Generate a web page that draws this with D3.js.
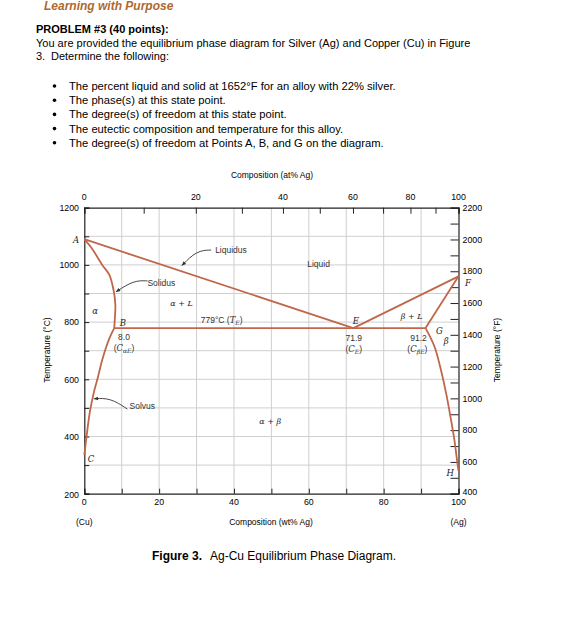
<!DOCTYPE html>
<html>
<head>
<meta charset="utf-8">
<script src="https://cdn.jsdelivr.net/npm/d3@7"></script>
<style>
  body { margin: 0; background: #fff; }
  svg text { font-family: "Liberation Sans", Arial, sans-serif; }
  .serif { font-family: "DejaVu Serif", "Liberation Serif", serif; font-style: italic; }
</style>
</head>
<body>
<svg id="chart" width="561" height="619"></svg>
<script>
// header text
const bullets = [
  "The percent liquid and solid at 1652\u00b0F for an alloy with 22% silver.",
  "The phase(s) at this state point.",
  "The degree(s) of freedom at this state point.",
  "The eutectic composition and temperature for this alloy.",
  "The degree(s) of freedom at Points A, B, and G on the diagram."
];

// axis ticks
const wtTicks = d3.range(0, 101, 10);        // bottom, wt% Ag
const wtLabels = [0, 20, 40, 60, 80, 100];
const atTicks = d3.range(0, 101, 10);        // top, at% Ag
const atLabels = [0, 20, 40, 60, 80, 100];
const cTicks = d3.range(200, 1201, 100);     // left, deg C
const cLabels = [200, 400, 600, 800, 1000, 1200];
const fTicks = d3.range(400, 2201, 100);     // right, deg F
const fLabels = [400, 600, 800, 1000, 1200, 1400, 1600, 1800, 2000, 2200];

// phase boundaries [wt% Ag, deg C]
const liquidusLeft = [[0, 1090], [71.9, 779]];
const liquidusRight = [[71.9, 779], [100, 960]];
const eutectic = [[8.0, 779], [91.2, 779]];
const solidusLeft = [[0, 1090], [2.0, 1058], [4.8, 1000], [6.7, 965], [7.9, 906], [8.3, 860], [8.2, 820], [8.0, 779]];
const solvusLeft = [[8.0, 779], [6.7, 743], [4.9, 673], [3.5, 600], [2.6, 557], [1.5, 487], [0.6, 400], [0, 335]];
const solidusRight = [[91.2, 779], [100, 960]];
const solvusRight = [[91.2, 779], [93.6, 714], [95.1, 644], [96.7, 551], [98.0, 458], [98.9, 388], [99.6, 318], [100, 280]];

const svg = d3.select("#chart");

// ---- header
svg.append("text").attr("x", 44).attr("y", 10)
  .attr("fill", "#b0692e").style("font-size", "12px")
  .style("font-weight", "bold").style("font-style", "italic")
  .text("Learning with Purpose");

svg.append("text").attr("x", 36).attr("y", 33)
  .style("font-size", "11px").style("font-weight", "bold")
  .text("PROBLEM #3 (40 points):");
svg.append("text").attr("x", 36).attr("y", 46.5)
  .style("font-size", "11px")
  .text("You are provided the equilibrium phase diagram for Silver (Ag) and Copper (Cu) in Figure");
const l3 = svg.append("text").attr("y", 60).style("font-size", "11px");
l3.append("tspan").attr("x", 36).text("3.");
l3.append("tspan").attr("x", 51).text("Determine the following:");

const bl = svg.append("g").selectAll("g").data(bullets).join("g")
  .attr("transform", (d, i) => `translate(0,${90 + i * 14.2})`);
bl.append("circle").attr("cx", 54.5).attr("cy", -4).attr("r", 1.8).attr("fill", "#000");
bl.append("text").attr("x", 69).style("font-size", "11.2px").text(d => d);

// ---- chart
const x = d3.scaleLinear().domain([0, 100]).range([84.3, 458.5]);
const y = d3.scaleLinear().domain([200, 1200]).range([493.7, 207.7]);
const yF = d3.scaleLinear().domain([400, 2200]).range([493.7, 207.7]);

// at% -> wt% Ag
const atToWt = a => 100 * a * 107.87 / (a * 107.87 + (100 - a) * 63.55);

const grid = svg.append("g").attr("stroke", "#cfcfcf").attr("stroke-width", 1);
grid.selectAll(".gv").data(wtTicks.slice(1, -1)).join("line")
  .attr("x1", d => x(d)).attr("x2", d => x(d))
  .attr("y1", y(1200)).attr("y2", y(200));
grid.selectAll(".gh").data(cTicks.slice(1, -1)).join("line")
  .attr("x1", x(0)).attr("x2", x(100))
  .attr("y1", d => y(d)).attr("y2", d => y(d));

// axes
const fs = "8.8px";
const axB = svg.append("g").attr("transform", `translate(0,${y(200)})`)
  .call(d3.axisBottom(x).tickValues(wtTicks).tickSize(-5).tickFormat(""));
svg.append("g").selectAll("text").data(wtLabels).join("text")
  .attr("x", d => x(d)).attr("y", 505).attr("text-anchor", "middle")
  .style("font-size", fs).text(d => d);

const axT = svg.append("g").attr("transform", `translate(0,${y(1200)})`)
  .call(d3.axisTop(x).tickValues(atTicks.map(atToWt)).tickSize(-6).tickFormat(""));
svg.append("g").selectAll("text").data(atLabels).join("text")
  .attr("x", d => x(atToWt(d))).attr("y", 200).attr("text-anchor", "middle")
  .style("font-size", fs).text(d => d);

const axL = svg.append("g").attr("transform", `translate(${x(0)},0)`)
  .call(d3.axisLeft(y).tickValues(cTicks).tickSize(-5).tickFormat(""));
svg.append("g").selectAll("text").data(cLabels).join("text")
  .attr("x", 79).attr("y", d => y(d) + (d === 200 ? 4.5 : 3.2)).attr("text-anchor", "end")
  .style("font-size", fs).text(d => d);

const axR = svg.append("g").attr("transform", `translate(${x(100)},0)`)
  .call(d3.axisRight(yF).tickValues(fTicks).tickSize(-8).tickFormat(""));
svg.append("g").selectAll("text").data(fLabels).join("text")
  .attr("x", 462.5).attr("y", d => yF(d) + (d === 400 ? 1.5 : 3.2))
  .style("font-size", fs).text(d => d);

[axB, axT, axL, axR].forEach(g => {
  g.select(".domain").attr("stroke", "#222").attr("stroke-width", 1.2);
  g.selectAll(".tick line").attr("stroke", "#222").attr("stroke-width", 1);
});

// axis titles
svg.append("text").attr("x", 272).attr("y", 178).attr("text-anchor", "middle")
  .style("font-size", "8.5px").text("Composition (at% Ag)");
svg.append("text").attr("x", 271).attr("y", 525).attr("text-anchor", "middle")
  .style("font-size", "8.5px").text("Composition (wt% Ag)");
svg.append("text").attr("x", x(0)).attr("y", 525).attr("text-anchor", "middle")
  .style("font-size", "8.5px").text("(Cu)");
svg.append("text").attr("x", x(100)).attr("y", 525).attr("text-anchor", "middle")
  .style("font-size", "8.5px").text("(Ag)");
svg.append("text").attr("transform", "translate(50,350) rotate(-90)").attr("text-anchor", "middle")
  .style("font-size", "8.5px").text("Temperature (\u00b0C)");
svg.append("text").attr("transform", "translate(500,350) rotate(-90)").attr("text-anchor", "middle")
  .style("font-size", "8.5px").text("Temperature (\u00b0F)");

// phase boundaries
const straight = d3.line().x(d => x(d[0])).y(d => y(d[1]));
const smooth = d3.line().x(d => x(d[0])).y(d => y(d[1])).curve(d3.curveCatmullRom.alpha(0.5));
const lines = svg.append("g").attr("fill", "none").attr("stroke", "#c0674b").attr("stroke-width", 1.8);
[liquidusLeft, liquidusRight, eutectic, solidusRight].forEach(d => lines.append("path").attr("d", straight(d)));
[solidusLeft, solvusLeft, solvusRight].forEach(d => lines.append("path").attr("d", smooth(d)));

// leader arrows: [start, control, end] in data units
const leaders = [
  { label: "Solidus", pos: [20.6, 938], path: [[16.9, 944], [13.2, 946], [8.5, 906]] },
  { label: "Liquidus", pos: [39.2, 1053], path: [[33.9, 1052], [30.0, 1050], [26.1, 998]] },
  { label: "Solvus", pos: [15.5, 506], path: [[11.5, 496], [7.0, 535], [2.6, 532]] }
];
svg.append("defs").append("marker").attr("id", "arr")
  .attr("viewBox", "0 0 10 10").attr("refX", 9).attr("refY", 5)
  .attr("markerWidth", 6).attr("markerHeight", 5).attr("orient", "auto")
  .append("path").attr("d", "M0,1 L10,5 L0,9 Z").attr("fill", "#333");
const curveLine = d3.line().x(d => x(d[0])).y(d => y(d[1])).curve(d3.curveBundle.beta(1));
const ann = svg.append("g");
ann.selectAll("path").data(leaders).join("path")
  .attr("d", d => curveLine(d.path)).attr("fill", "none")
  .attr("stroke", "#333").attr("stroke-width", 0.9).attr("marker-end", "url(#arr)");
ann.selectAll("text").data(leaders).join("text")
  .attr("x", d => x(d.pos[0])).attr("y", d => y(d.pos[1]) + 3)
  .attr("text-anchor", "middle").style("font-size", "8.5px").attr("fill", "#333")
  .text(d => d.label);

// region and point labels [wt%, degC]
const serifLabels = [
  { t: "A", p: [-2.2, 1087] }, { t: "B", p: [10.3, 797] }, { t: "C", p: [1.8, 323] },
  { t: "E", p: [72.6, 804] }, { t: "F", p: [102.5, 938] }, { t: "G", p: [94.9, 770] },
  { t: "H", p: [97.8, 271] }, { t: "\u03b1", p: [2.9, 838] }, { t: "\u03b2", p: [96.7, 733] }
];
ann.append("g").selectAll("text").data(serifLabels).join("text")
  .attr("class", "serif").attr("x", d => x(d.p[0])).attr("y", d => y(d.p[1]) + 3)
  .attr("text-anchor", "middle").style("font-size", "8.5px").attr("fill", "#222")
  .text(d => d.t);

const phaseLabels = [
  { t: "\u03b1 + L", p: [26.0, 866] }, { t: "\u03b1 + \u03b2", p: [49.7, 455] },
  { t: "\u03b2 + L", p: [87.5, 821] }
];
ann.append("g").selectAll("text").data(phaseLabels).join("text")
  .attr("class", "serif").attr("x", d => x(d.p[0])).attr("y", d => y(d.p[1]) + 3)
  .attr("text-anchor", "middle").style("font-size", "8px").attr("fill", "#222")
  .text(d => d.t);

const plainLabels = [
  { t: "Liquid", p: [62.6, 1002] }, { t: "8.0", p: [10.6, 747] },
  { t: "71.9", p: [72.0, 743] }, { t: "91.2", p: [89.3, 743] }
];
ann.append("g").selectAll("text").data(plainLabels).join("text")
  .attr("x", d => x(d.p[0])).attr("y", d => y(d.p[1]) + 3)
  .attr("text-anchor", "middle").style("font-size", "8.5px").attr("fill", "#333")
  .text(d => d.t);

// subscript labels
const subLabels = [
  { sub: "\u03b1E", p: [10.6, 708] }, { sub: "E", p: [72.0, 705] }, { sub: "\u03b2E", p: [89.0, 705] }
];
const sl = ann.append("g").selectAll("text").data(subLabels).join("text")
  .attr("x", d => x(d.p[0])).attr("y", d => y(d.p[1]) + 3)
  .attr("text-anchor", "middle").style("font-size", "8.5px").attr("fill", "#333");
sl.append("tspan").text("(");
sl.append("tspan").attr("class", "serif").text("C");
sl.append("tspan").attr("class", "serif").attr("dy", 2).style("font-size", "6px").text(d => d.sub);
sl.append("tspan").attr("dy", -2).text(")");

// 779 label
const te = ann.append("text").attr("x", x(36.7)).attr("y", y(806) + 3)
  .attr("text-anchor", "middle").style("font-size", "8.5px").attr("fill", "#333");
te.append("tspan").text("779\u00b0C (");
te.append("tspan").attr("class", "serif").text("T");
te.append("tspan").attr("class", "serif").attr("dy", 2).style("font-size", "6px").text("E");
te.append("tspan").attr("dy", -2).text(")");

// caption
const cap = svg.append("text").attr("y", 560).style("font-size", "12px");
cap.append("tspan").attr("x", 152).style("font-weight", "bold").text("Figure 3.");
cap.append("tspan").attr("x", 210).text("Ag-Cu Equilibrium Phase Diagram.");
</script>
</body>
</html>
